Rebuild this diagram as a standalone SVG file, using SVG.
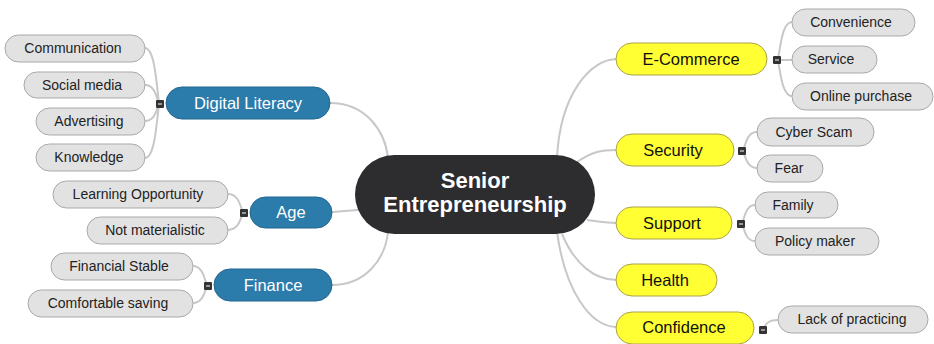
<svg xmlns="http://www.w3.org/2000/svg" width="934" height="344" viewBox="0 0 934 344">
<style>
.c{fill:none;stroke:#c8c8c8;stroke-width:2}
.leaf rect{fill:#e2e2e2;stroke:#a9a9a9;stroke-width:1}
.leaf text{font-family:"Liberation Sans",Arial,sans-serif;font-size:14px;fill:#222;text-anchor:middle}
.blue rect{fill:#2b7bab;stroke:#23668f;stroke-width:1}
.blue text{font-family:"Liberation Sans",Arial,sans-serif;font-size:16.5px;fill:#fff;text-anchor:middle}
.yel rect{fill:#ffff33;stroke:#a9a34a;stroke-width:1}
.yel text{font-family:"Liberation Sans",Arial,sans-serif;font-size:16.5px;fill:#111;text-anchor:middle}
.ctr rect{fill:#2d2d30}
.ctr text{font-family:"Liberation Sans",Arial,sans-serif;font-size:22px;font-weight:bold;fill:#fff;text-anchor:middle}
</style>
<defs>
<g id="minus"><rect x="0" y="0" width="8" height="8" rx="1" fill="#333"/><line x1="2" y1="4" x2="6" y2="4" stroke="#ddd" stroke-width="1.2"/></g>
</defs>
<g id="connectors">
<path class="c" d="M330,103 C365,103 385,130 388,158"/>
<path class="c" d="M332,212 L358,210"/>
<path class="c" d="M332,285 C365,285 385,260 388,232"/>
<path class="c" d="M557,158 C560,95 590,59 617,59"/>
<path class="c" d="M577,162 C592,152 600,150 617,150"/>
<path class="c" d="M587,220 C600,222 605,223 617,223"/>
<path class="c" d="M562,234 C575,265 595,280 617,280"/>
<path class="c" d="M557,232 C565,290 590,327 617,327"/>
<path class="c" d="M160,104 C157,104 157,48 145,48"/>
<path class="c" d="M160,104 C157,104 157,85 145,85"/>
<path class="c" d="M160,104 C157,104 157,121 145,121"/>
<path class="c" d="M160,104 C157,104 157,158 145,158"/>
<path class="c" d="M244,213 C241,213 241,194 228,194"/>
<path class="c" d="M244,213 C241,213 241,230 228,230"/>
<path class="c" d="M208,286 C205,286 205,266 193,266"/>
<path class="c" d="M208,286 C205,286 205,303 193,303"/>
<path class="c" d="M777,60 C780,60 780,22 792,22"/>
<path class="c" d="M777,60 L792,60"/>
<path class="c" d="M777,60 C780,60 780,96 792,96"/>
<path class="c" d="M742,151 C745,151 745,132 757,132"/>
<path class="c" d="M742,151 C745,151 745,168 757,168"/>
<path class="c" d="M741,224 C744,224 744,205 755,205"/>
<path class="c" d="M741,224 C744,224 744,241 755,241"/>
<path class="c" d="M763,330 C766,322 770,320 778,320"/>
</g>
<g id="center" class="ctr"><rect x="355" y="155" width="240" height="79" rx="39.5"/><text x="475" y="188">Senior</text><text x="475" y="212">Entrepreneurship</text></g>
<g id="digital-literacy" class="blue"><rect x="166" y="87" width="164" height="32" rx="16"/><text x="248" y="109">Digital Literacy</text></g>
<g id="age" class="blue"><rect x="250" y="197" width="82" height="31" rx="15.5"/><text x="291" y="218">Age</text></g>
<g id="finance" class="blue"><rect x="214" y="269" width="118" height="32" rx="16"/><text x="273" y="291">Finance</text></g>
<g id="communication" class="leaf"><rect x="5" y="35" width="140" height="27" rx="13.5"/><text x="73" y="53">Communication</text></g>
<g id="social-media" class="leaf"><rect x="24" y="72" width="121" height="26" rx="13"/><text x="82" y="90">Social media</text></g>
<g id="advertising" class="leaf"><rect x="36" y="108" width="109" height="27" rx="13.5"/><text x="89" y="126">Advertising</text></g>
<g id="knowledge" class="leaf"><rect x="36" y="144" width="109" height="27" rx="13.5"/><text x="89" y="162">Knowledge</text></g>
<g id="learning-opportunity" class="leaf"><rect x="53" y="181" width="175" height="27" rx="13.5"/><text x="138" y="199">Learning Opportunity</text></g>
<g id="not-materialistic" class="leaf"><rect x="87" y="217" width="141" height="27" rx="13.5"/><text x="155" y="235">Not materialistic</text></g>
<g id="financial-stable" class="leaf"><rect x="51" y="253" width="142" height="27" rx="13.5"/><text x="119" y="271">Financial Stable</text></g>
<g id="comfortable-saving" class="leaf"><rect x="28" y="290" width="165" height="27" rx="13.5"/><text x="108" y="308">Comfortable saving</text></g>
<g id="e-commerce" class="yel"><rect x="616" y="43" width="151" height="32" rx="16"/><text x="691" y="65">E-Commerce</text></g>
<g id="security" class="yel"><rect x="616" y="134" width="118" height="32" rx="16"/><text x="673" y="156">Security</text></g>
<g id="support" class="yel"><rect x="616" y="207" width="116" height="32" rx="16"/><text x="672" y="229">Support</text></g>
<g id="health" class="yel"><rect x="616" y="264" width="101" height="32" rx="16"/><text x="665" y="286">Health</text></g>
<g id="confidence" class="yel"><rect x="616" y="312" width="138" height="32" rx="16"/><text x="684" y="333">Confidence</text></g>
<g id="convenience" class="leaf"><rect x="792" y="9" width="123" height="27" rx="13.5"/><text x="851" y="27">Convenience</text></g>
<g id="service" class="leaf"><rect x="792" y="46" width="85" height="27" rx="13.5"/><text x="831" y="64">Service</text></g>
<g id="online-purchase" class="leaf"><rect x="792" y="83" width="141" height="27" rx="13.5"/><text x="861" y="101">Online purchase</text></g>
<g id="cyber-scam" class="leaf"><rect x="757" y="118" width="117" height="28" rx="14"/><text x="814" y="137">Cyber Scam</text></g>
<g id="fear" class="leaf"><rect x="757" y="155" width="66" height="27" rx="13.5"/><text x="789" y="173">Fear</text></g>
<g id="family" class="leaf"><rect x="755" y="192" width="83" height="26" rx="13"/><text x="793" y="210">Family</text></g>
<g id="policy-maker" class="leaf"><rect x="755" y="228" width="124" height="27" rx="13.5"/><text x="815" y="246">Policy maker</text></g>
<g id="lack-of-practicing" class="leaf"><rect x="778" y="306" width="150" height="27" rx="13.5"/><text x="852" y="324">Lack of practicing</text></g>
<g id="collapse-markers">
<use href="#minus" x="156" y="100"/>
<use href="#minus" x="240" y="209"/>
<use href="#minus" x="204" y="282"/>
<use href="#minus" x="773" y="56"/>
<use href="#minus" x="738" y="147"/>
<use href="#minus" x="737" y="220"/>
<use href="#minus" x="759" y="326"/>
</g>
</svg>
